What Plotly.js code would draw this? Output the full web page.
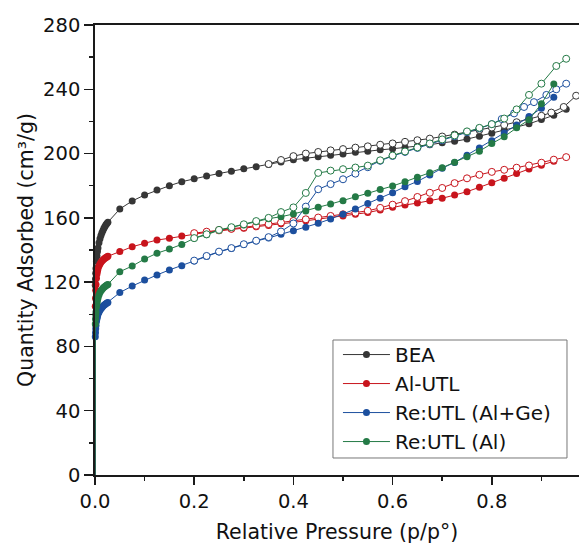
<!DOCTYPE html>
<html>
<head>
<meta charset="utf-8">
<script src="https://cdn.plot.ly/plotly-3.0.1.min.js"></script>
<style>html,body{margin:0;padding:0;background:#fff;}#chart{width:579px;height:551px;}</style>
</head>
<body>
<div id="chart"></div>
<script>
// Shared relative-pressure grids
const lowP = [0.0003,0.0006,0.001,0.0015,0.002,0.003,0.004,0.005,0.006,0.008,0.010,0.012,0.014,0.016,0.018,0.020,0.022,0.024,0.026];
const regP = [0.05,0.075,0.1,0.125,0.15,0.175,0.2,0.225,0.25,0.275,0.3,0.325,0.35,0.375,0.4,0.425,0.45,0.475,0.5,0.525,0.55,0.575,0.6,0.625,0.65,0.675,0.7,0.725,0.75,0.775,0.8,0.825,0.85,0.875,0.9,0.925,0.95];

// BEA
const beaLowQ = [0,118,122,125.5,128.5,133,136.3,139,141.2,144.5,147,149,150.7,152.2,153.5,154.7,155.7,156.5,157.3];
const beaAdsQ = [165.5,170.5,174.2,177.3,180,182.5,184.4,186,187.6,189,190.5,191.8,193.2,194.8,196.2,197.1,198,199,199.8,200.8,201.4,202.3,203,203.8,204.7,205.5,206.7,207.6,209,210.8,212.6,214.5,216.5,218.5,221.2,223.8,227.6];
const beaDesP = [0.97,0.945,0.92,0.9,0.875,0.85,0.825,0.8,0.775,0.75,0.725,0.7,0.675,0.65,0.625,0.6,0.575,0.55,0.525,0.5,0.475,0.45,0.425,0.4,0.375,0.35];
const beaDesQ = [236,229,225.5,223.5,221.5,219.5,217.8,216.2,214.7,213.3,211.8,210.6,209.3,208.3,207.3,206.3,205.5,204.5,203.7,202.8,202,201,200,198.4,196,193.5];

// Al-UTL
const alLowQ = [0,105,110,115,118.5,122.5,125,126.8,128.2,130,131.3,132.3,133.1,133.8,134.4,134.9,135.3,135.7,136.1];
const alAdsQ = [139,142,144.2,146.2,147.3,148.7,149.8,151,152,153,153.6,154.5,155.3,156.3,157.2,158.2,159.2,160.2,161.2,162.2,163.3,164.9,166.6,168,169.2,170.7,172.2,174.2,176.3,179,181.9,184.6,187.6,190.4,192.8,195.2];
const alDesP = [0.95,0.925,0.9,0.875,0.85,0.825,0.8,0.775,0.75,0.725,0.7,0.675,0.65,0.625,0.6,0.575,0.55,0.525,0.5,0.475,0.45,0.425,0.4,0.375,0.35,0.325,0.3,0.275,0.25,0.225,0.2];
const alDesQ = [197.8,196.2,194.3,192.6,191.2,189.9,188.6,186.8,184.6,181.6,178.6,175.6,173,170.4,168.2,166.2,164.4,163.2,162.2,161.2,160.2,159.1,158.1,157.1,156.1,155.1,154.1,153.2,152.4,151.4,150.5];

// Re:UTL (Al+Ge)
const geLowQ = [0,86,88.5,91,93,95.5,97.3,98.7,99.8,101.3,102.5,103.5,104.3,105,105.6,106.1,106.6,107,107.4];
const geAdsQ = [113.5,117.6,121.3,124.5,127.6,130.2,133.2,136,138.8,141,143.4,145.6,147.5,149.8,152,154.2,156.6,159.3,162.3,165.5,169,172.2,175.7,179.4,182.7,186.7,190.9,194.5,199,203.5,208,212.8,217.8,223,228.2,235];
const geDesP = [0.95,0.93,0.91,0.885,0.865,0.845,0.82,0.8,0.775,0.75,0.725,0.7,0.675,0.65,0.625,0.6,0.575,0.55,0.525,0.5,0.475,0.45,0.425,0.4,0.375,0.35,0.325,0.3,0.275,0.25,0.225,0.2];
const geDesQ = [243.5,240,236.5,232,229,225,221.5,218.3,215.7,213.3,210.8,208.3,206,203.5,201,198.5,195.5,191.5,187.5,184,181,177.8,167,156.5,151.5,148,145.8,143.6,141.2,139,136.3,133.4];

// Re:UTL (Al)
const reLowQ = [0,94,97,99.5,101.5,104.5,106.8,108.6,110,112,113.5,114.6,115.5,116.2,116.8,117.3,117.8,118.2,118.6];
const reAdsQ = [126.5,130,134.4,138,140.6,143.5,147.3,149.5,152.3,154,155.6,157.6,159.5,160.7,162.4,164.3,166.6,168.6,170.7,173.2,175.3,177.6,179.8,182.5,185.2,188.1,191.2,194.6,198,201.5,206.2,210.5,216,221,231,243.3];
const reDesP = [0.95,0.93,0.9,0.875,0.85,0.825,0.8,0.775,0.75,0.725,0.7,0.675,0.65,0.625,0.6,0.575,0.55,0.525,0.5,0.475,0.45,0.425,0.4,0.375,0.35,0.325,0.3,0.275,0.25,0.225,0.2];
const reDesQ = [259,254.5,243.5,236.5,227.5,221.8,218.3,216,213.8,211.3,208.8,206.3,203.8,201.3,198.8,195.8,192.5,191.3,190.3,189.4,188,175.5,166.5,163.6,160,158,156,154.2,152.5,149.8,147.4];

const names = ['BEA','Al-UTL','Re:UTL (Al+Ge)','Re:UTL (Al)'];
const colors = ['#363636','#c8141c','#1c4f9e','#247a46'];

const series = [
  {low: beaLowQ, ads: beaAdsQ, dP: beaDesP, dQ: beaDesQ},
  {low: alLowQ, ads: alAdsQ, dP: alDesP, dQ: alDesQ},
  {low: geLowQ, ads: geAdsQ, dP: geDesP, dQ: geDesQ},
  {low: reLowQ, ads: reAdsQ, dP: reDesP, dQ: reDesQ}
];

const traces = [];
series.forEach((s, i) => {
  const adsP = lowP.concat(regP.slice(0, s.ads.length));
  const adsQ = s.low.concat(s.ads);
  // vertical start of the isotherm (from zero uptake), drawn as line only
  traces.push({
    x: adsP.slice(0, 2), y: adsQ.slice(0, 2), type: 'scatter', mode: 'lines',
    line: {color: colors[i], width: 1}, showlegend: false, hoverinfo: 'skip'
  });
  traces.push({
    x: adsP.slice(1), y: adsQ.slice(1), type: 'scatter', mode: 'lines+markers', name: names[i],
    line: {color: colors[i], width: 1},
    marker: {color: colors[i], size: 7, line: {width: 0}},
    legendgroup: names[i], cliponaxis: false
  });
  traces.push({
    x: s.dP, y: s.dQ, type: 'scatter', mode: 'lines+markers', name: names[i] + ' des',
    line: {color: colors[i], width: 1},
    marker: {color: '#ffffff', size: 7, line: {color: colors[i], width: 1}},
    legendgroup: names[i], showlegend: false, cliponaxis: false
  });
});

const font = 'DejaVu Sans, Arial, sans-serif';
const layout = {
  width: 579, height: 551,
  margin: {l: 95, r: 0, t: 25, b: 76},
  paper_bgcolor: '#ffffff', plot_bgcolor: '#ffffff',
  font: {family: font, size: 19.5, color: '#111'},
  showlegend: true,
  legend: {
    x: 0.502, y: 0.311, xanchor: 'left', yanchor: 'top',
    bgcolor: 'rgba(0,0,0,0)', borderwidth: 0,
    font: {family: font, size: 20, color: '#111'},
    itemwidth: 47, tracegroupgap: 0
  },
  shapes: [{
    type: 'rect', xref: 'paper', yref: 'paper',
    x0: 0.4917, x1: 0.9752, y0: 0.0378, y1: 0.3,
    line: {color: '#777777', width: 1}, fillcolor: 'rgba(0,0,0,0)', layer: 'above'
  }],
  xaxis: {
    range: [0, 0.9758], dtick: 0.2, tick0: 0, tickformat: '.1f',
    ticks: 'outside', ticklen: 8, tickwidth: 1.5, tickcolor: '#1a1a1a',
    showline: true, linewidth: 1.8, linecolor: '#1a1a1a', mirror: true,
    showgrid: false, zeroline: false,
    minor: {dtick: 0.1, ticks: 'outside', ticklen: 4, tickwidth: 1.5, tickcolor: '#1a1a1a', showgrid: false},
    tickfont: {family: font, size: 19.5, color: '#111'},
    title: {text: 'Relative Pressure (p/p°)', font: {family: font, size: 20.5, color: '#111'}, standoff: 12}
  },
  yaxis: {
    range: [0, 280], dtick: 40, tick0: 0,
    ticks: 'outside', ticklen: 9, tickwidth: 1.5, tickcolor: '#1a1a1a',
    showline: true, linewidth: 1.8, linecolor: '#1a1a1a', mirror: false,
    showgrid: false, zeroline: false,
    minor: {dtick: 20, ticks: 'outside', ticklen: 4, tickwidth: 1.5, tickcolor: '#1a1a1a', showgrid: false},
    tickfont: {family: font, size: 19.5, color: '#111'},
    title: {text: 'Quantity Adsorbed (cm³/g)', font: {family: font, size: 20.5, color: '#111'}, standoff: 4}
  }
};

Plotly.newPlot('chart', traces, layout, {displayModeBar: false, staticPlot: true});
</script>
</body>
</html>
